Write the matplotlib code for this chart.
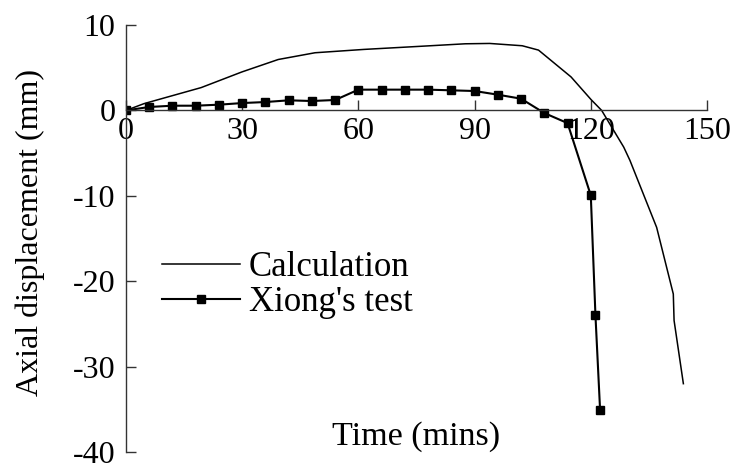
import matplotlib
matplotlib.use("Agg")
import matplotlib.pyplot as plt

plt.rcParams['font.family'] = ['Liberation Serif', 'DejaVu Serif']
plt.rcParams['axes.unicode_minus'] = False

# calculated axial displacement (mm) against fire time (mins)
calc_t = [0, 4.7, 19.4, 29.9, 39.3, 48.8, 61.4, 77, 87.6, 93.9, 102.3, 106.5,
          114.9, 120.1, 122.8, 128.5, 130.1, 137, 141.3, 141.5, 143.9]
calc_d = [0, 0.8, 2.67, 4.5, 5.96, 6.75, 7.14, 7.53, 7.8, 7.84, 7.57, 7.06,
          3.92, 1.25, 0, -4.3, -5.85, -13.7, -21.5, -24.6, -32.0]

# measured values from Xiong's test
test_t = [0, 6, 12, 18, 24, 30, 36, 42, 48, 54, 60, 66, 72, 78, 84, 90, 96,
          102, 108, 114, 120, 121.2, 122.4]
test_d = [0, 0.4, 0.55, 0.55, 0.67, 0.86, 0.98, 1.18, 1.1, 1.22, 2.43, 2.43,
          2.43, 2.43, 2.35, 2.27, 1.84, 1.37, -0.31, -1.49, -9.95, -24.0, -35.1]

x_ticks = [0, 30, 60, 90, 120, 150]
y_ticks = [-40, -30, -20, -10, 0, 10]

fig = plt.figure(figsize=(7.38, 4.65), dpi=100)
ax = fig.add_axes([126 / 738, 13 / 465, 581 / 738, 427 / 465])

ax.plot(calc_t, calc_d, color='black', lw=1.1, label='Calculation')
ax.plot(test_t, test_d, color='black', lw=1.5, marker='s', markersize=6,
        label="Xiong's test")

ax.set_xlim(0, 150)
ax.set_ylim(-40, 10)
ax.set_xticks(x_ticks)
ax.set_yticks(y_ticks)

ax.spines['top'].set_visible(False)
ax.spines['right'].set_visible(False)
ax.spines['bottom'].set_position(('data', 0))
for s in ('left', 'bottom'):
    ax.spines[s].set_linewidth(1.0)
    ax.spines[s].set_color('#333333')

ax.tick_params(axis='both', direction='in', length=7, width=1.0,
               color='#333333', labelsize=23)
ax.tick_params(axis='x', pad=5)
ax.tick_params(axis='y', pad=7.5)

ax.text(0.5, 0.035, 'Time (mins)', transform=ax.transAxes,
        ha='center', va='center', fontsize=24.5)
fig.text(30 / 738, 0.5, 'Axial displacement (mm)', rotation=90,
         ha='center', va='center', fontsize=23)

ax.legend(loc='upper left', bbox_to_anchor=(0.038, 0.503), frameon=False,
          fontsize=25, handlelength=2.25, handletextpad=0.25,
          labelspacing=0.05, borderaxespad=0)

fig.savefig('out.png', dpi=100)
